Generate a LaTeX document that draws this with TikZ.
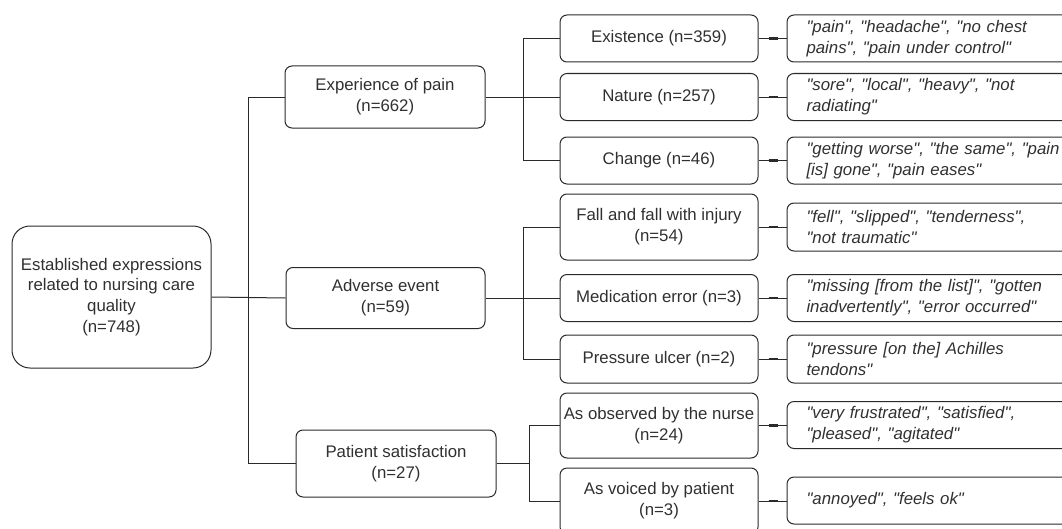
\documentclass[tikz,border=0pt]{standalone}
\usepackage{fontspec}
\setmainfont{Liberation Sans}[Ligatures=TeXOff]
\usetikzlibrary{calc}
\newdimen\PX \PX=0.75pt
\definecolor{ln}{HTML}{2A2A2A}
\definecolor{tx}{HTML}{303030}
\begin{document}
\begin{tikzpicture}[x=0.75pt,y=-0.75pt,
  box/.style={draw=ln, line width=1\PX, rounded corners=7\PX, inner sep=0pt,
    align=center, text=tx, font=\fontsize{12.6}{15.6}\selectfont},
  qbox/.style={box, align=left, text width=254\PX, minimum width=293\PX,
    font=\fontsize{12.6}{15.6}\selectfont\itshape},
  link/.style={draw=ln, line width=1\PX},
  thk/.style={draw=ln, line width=2.4\PX}]
\useasboundingbox (0,0) rectangle (1062,528);
\clip (0,0) rectangle (1062,528);
% root
\node[box, rounded corners=18\PX, minimum width=199\PX, minimum height=142\PX] (root) at (111.5,297)
  {Established expressions\\related to nursing care\\quality\\(n=748)};
% level 1
\node[box, minimum width=200\PX, minimum height=62\PX] (exp) at (385,97) {Experience of pain\\(n=662)};
\node[box, minimum width=199\PX, minimum height=61\PX] (adv) at (385.5,298) {Adverse event\\(n=59)};
\node[box, minimum width=200\PX, minimum height=67\PX] (pat) at (396,463.5) {Patient satisfaction\\(n=27)};
% level 2
\node[box, minimum width=198\PX, minimum height=47\PX] (exis) at (659,38.5) {Existence (n=359)};
\node[box, minimum width=198\PX, minimum height=47\PX] (nat) at (659,97) {Nature (n=257)};
\node[box, minimum width=198\PX, minimum height=47\PX] (chg) at (659,160.5) {Change (n=46)};
\node[box, minimum width=198\PX, minimum height=66\PX] (fall) at (659,227) {Fall and fall with injury\\(n=54)};
\node[box, minimum width=198\PX, minimum height=47\PX] (med) at (659,298) {Medication error (n=3)};
\node[box, minimum width=198\PX, minimum height=48\PX] (pres) at (659,359) {Pressure ulcer (n=2)};
\node[box, minimum width=198\PX, minimum height=65\PX] (obs) at (659,425.5) {As observed by the nurse\\(n=24)};
\node[box, minimum width=198\PX, minimum height=66\PX] (voi) at (659,501) {As voiced by patient\\(n=3)};
% quotes
\node[qbox, minimum height=47\PX] (q1) at (933.5,38.5) {"pain", "headache", "no chest\\pains", "pain under control"};
\node[qbox, minimum height=47\PX] (q2) at (933.5,97) {"sore", "local", "heavy", "not\\radiating"};
\node[qbox, minimum height=47\PX] (q3) at (933.5,160.5) {"getting worse", "the same", "pain\\{[is]} gone", "pain eases"};
\node[qbox, minimum height=48\PX] (q4) at (933.5,227) {"fell", "slipped", "tenderness",\\"not traumatic"};
\node[qbox, minimum height=47\PX] (q5) at (933.5,298) {"missing {[from the list]}", "gotten\\inadvertently", "error occurred"};
\node[qbox, minimum height=48\PX] (q6) at (933.5,359) {"pressure {[on the]} Achilles\\tendons"};
\node[qbox, minimum height=47\PX] (q7) at (933.5,425) {"very frustrated", "satisfied",\\"pleased", "agitated"};
\node[qbox, minimum height=47\PX] (q8) at (933.5,500.5) {"annoyed", "feels ok"};
% buses
\coordinate (b1) at (248,298);
\coordinate (b2) at (523,97);
\coordinate (b3) at (523,298);
\coordinate (b4) at (529,463.5);
% root -> level 1
\draw[link] (root.east) -- (adv.west);
\draw[link] (exp.west) -- (exp.west -| b1) |- (pat.west);
% exp -> level 2
\draw[link] (exp.east) -- (nat.west);
\draw[link] (exis.west) -- (exis.west -| b2) |- (chg.west);
% adv -> level 2
\draw[link] (adv.east) -- (med.west);
\draw[link] (fall.west) -- (fall.west -| b3) |- (pres.west);
% pat -> level 2
\draw[link] (pat.east) -- (b4);
\draw[link] (obs.west) -- (obs.west -| b4) |- (voi.west);
% level 2 -> quotes
\foreach \a/\b in {exis/q1,nat/q2,chg/q3,fall/q4,med/q5,pres/q6,obs/q7,voi/q8}{
  \draw[link] (\a.east) -- (\a.east -| \b.west);
  \draw[thk] ($(\a.east)+(10,0)$) -- ++(9,0);
}
\end{tikzpicture}
\end{document}
